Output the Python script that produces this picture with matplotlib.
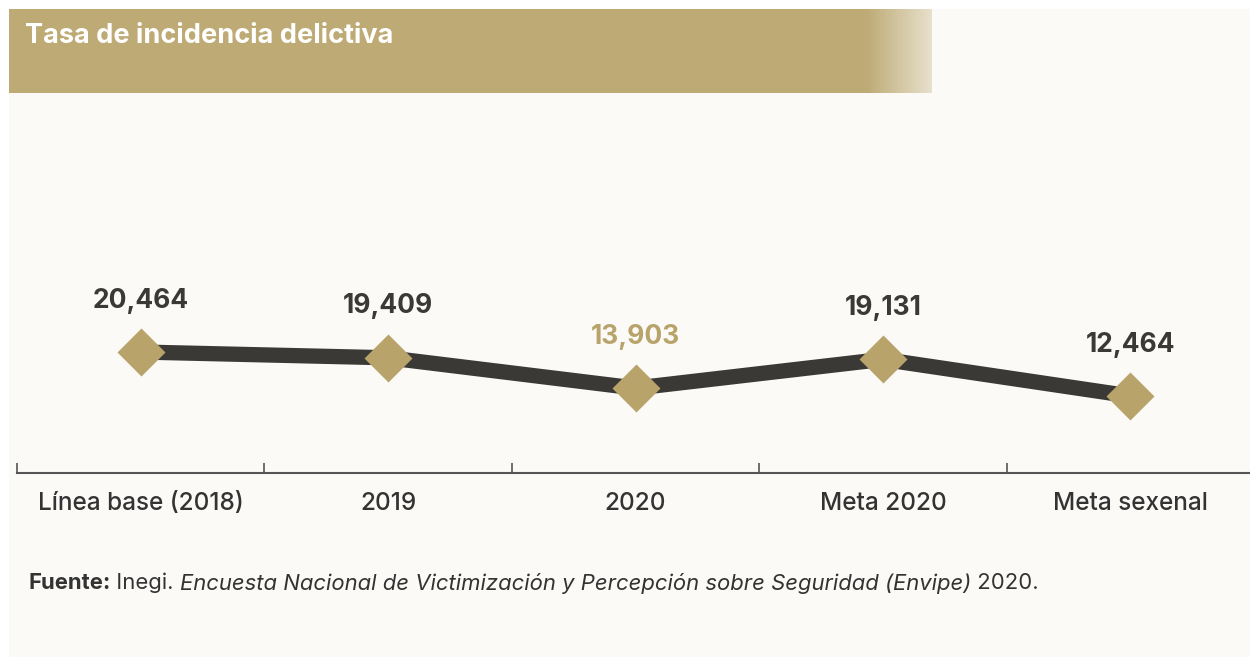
import numpy as np
import matplotlib.pyplot as plt
from matplotlib.patches import Rectangle

categorias = ["Línea base (2018)", "2019", "2020", "Meta 2020", "Meta sexenal"]
valores = [20464, 19409, 13903, 19131, 12464]
etiquetas = ["20,464", "19,409", "13,903", "19,131", "12,464"]
destacado = [False, False, True, False, False]

titulo = "Tasa de incidencia delictiva"
fuente_bold = "Fuente:"
fuente_1 = " Inegi. "
fuente_it = "Encuesta Nacional de Victimización y Percepción sobre Seguridad (Envipe)"
fuente_2 = " 2020."

ORO = "#BDAA74"
DIAMANTE = "#B8A36A"
OSCURO = "#3A3936"
FONDO = "#FBFAF7"
W, H = 1250, 658

plt.rcParams['font.family'] = ['Inter', 'DejaVu Sans']

fig = plt.figure(figsize=(W / 100, H / 100), dpi=100)
fig.patch.set_facecolor("white")

# fondo del panel y barra del titulo
bg = fig.add_axes([0, 0, 1, 1])
bg.axis("off")
bg.add_patch(Rectangle((9, 9), W - 9, H - 10, color=FONDO, lw=0))
bg.add_patch(Rectangle((9, 9), 860, 84, color=ORO, lw=0))
grad = np.linspace(0, 1, 100)[None, :, None]
c0 = np.array([0xBD, 0xAA, 0x74]) / 255
c1 = np.array([0xE7, 0xE0, 0xCC]) / 255
img = c0 + (c1 - c0) * grad
bg.imshow(img, extent=(865, 932, 93, 9), aspect="auto", zorder=2)
bg.set_xlim(0, W)
bg.set_ylim(H, 0)
bg.text(25, 36, titulo, color="white", fontsize=19.5, fontweight="bold",
        va="center", ha="left")

# grafica
y_axis_px, y_top_px = 473, 100
ax = fig.add_axes([17 / W, (H - y_axis_px) / H, (1254 - 17) / W, (y_axis_px - y_top_px) / H])
ax.patch.set_alpha(0)
vmax, vmin = max(valores), min(valores)
px_max, px_min = 352, 396  # altura en pixeles de max y min
upp = (vmax - vmin) / (px_min - px_max)
ybot = vmin - (y_axis_px - px_min) * upp
ax.set_ylim(ybot, ybot + (y_axis_px - y_top_px) * upp)
ax.set_xlim(-0.5, len(categorias) - 0.5)

x = np.arange(len(categorias))
ax.plot(x, valores, color=OSCURO, lw=11, solid_capstyle="butt", zorder=2)
ax.plot(x, valores, ls="none", marker="D", ms=24, color=DIAMANTE, mec="none", zorder=3)
for xi, v, t, d in zip(x, valores, etiquetas, destacado):
    ax.annotate(t, (xi, v), xytext=(0, 37), textcoords="offset points",
                ha="center", va="center", fontsize=19, fontweight="bold",
                color=DIAMANTE if d else OSCURO)

for s in ["top", "right", "left"]:
    ax.spines[s].set_visible(False)
ax.spines["bottom"].set_color("#555555")
ax.spines["bottom"].set_linewidth(1.5)
ax.set_yticks([])
ax.set_xticks(np.arange(-0.5, len(categorias) - 1, 1.0))
ax.set_xticklabels([])
ax.set_xticks(x, minor=True)
ax.set_xticklabels(categorias, minor=True, fontsize=17.5, color="#333333", fontweight="medium")
ax.tick_params(axis="x", which="major", direction="in", length=7, width=1.2, color="#555555")
ax.tick_params(axis="x", which="minor", length=0, pad=14)

# fuente
fig.canvas.draw()
r = fig.canvas.get_renderer()
xpos = 28
for txt, kw in [(fuente_bold, dict(fontweight="bold")), (fuente_1, {}),
                (fuente_it, dict(fontstyle="italic")), (fuente_2, {})]:
    t = bg.text(xpos, 583, txt, fontsize=15.9, color="#333333", va="center", ha="left", **kw)
    bb = t.get_window_extent(renderer=r)
    xpos += bb.width

fig.savefig("out.png", dpi=100, facecolor="white")
